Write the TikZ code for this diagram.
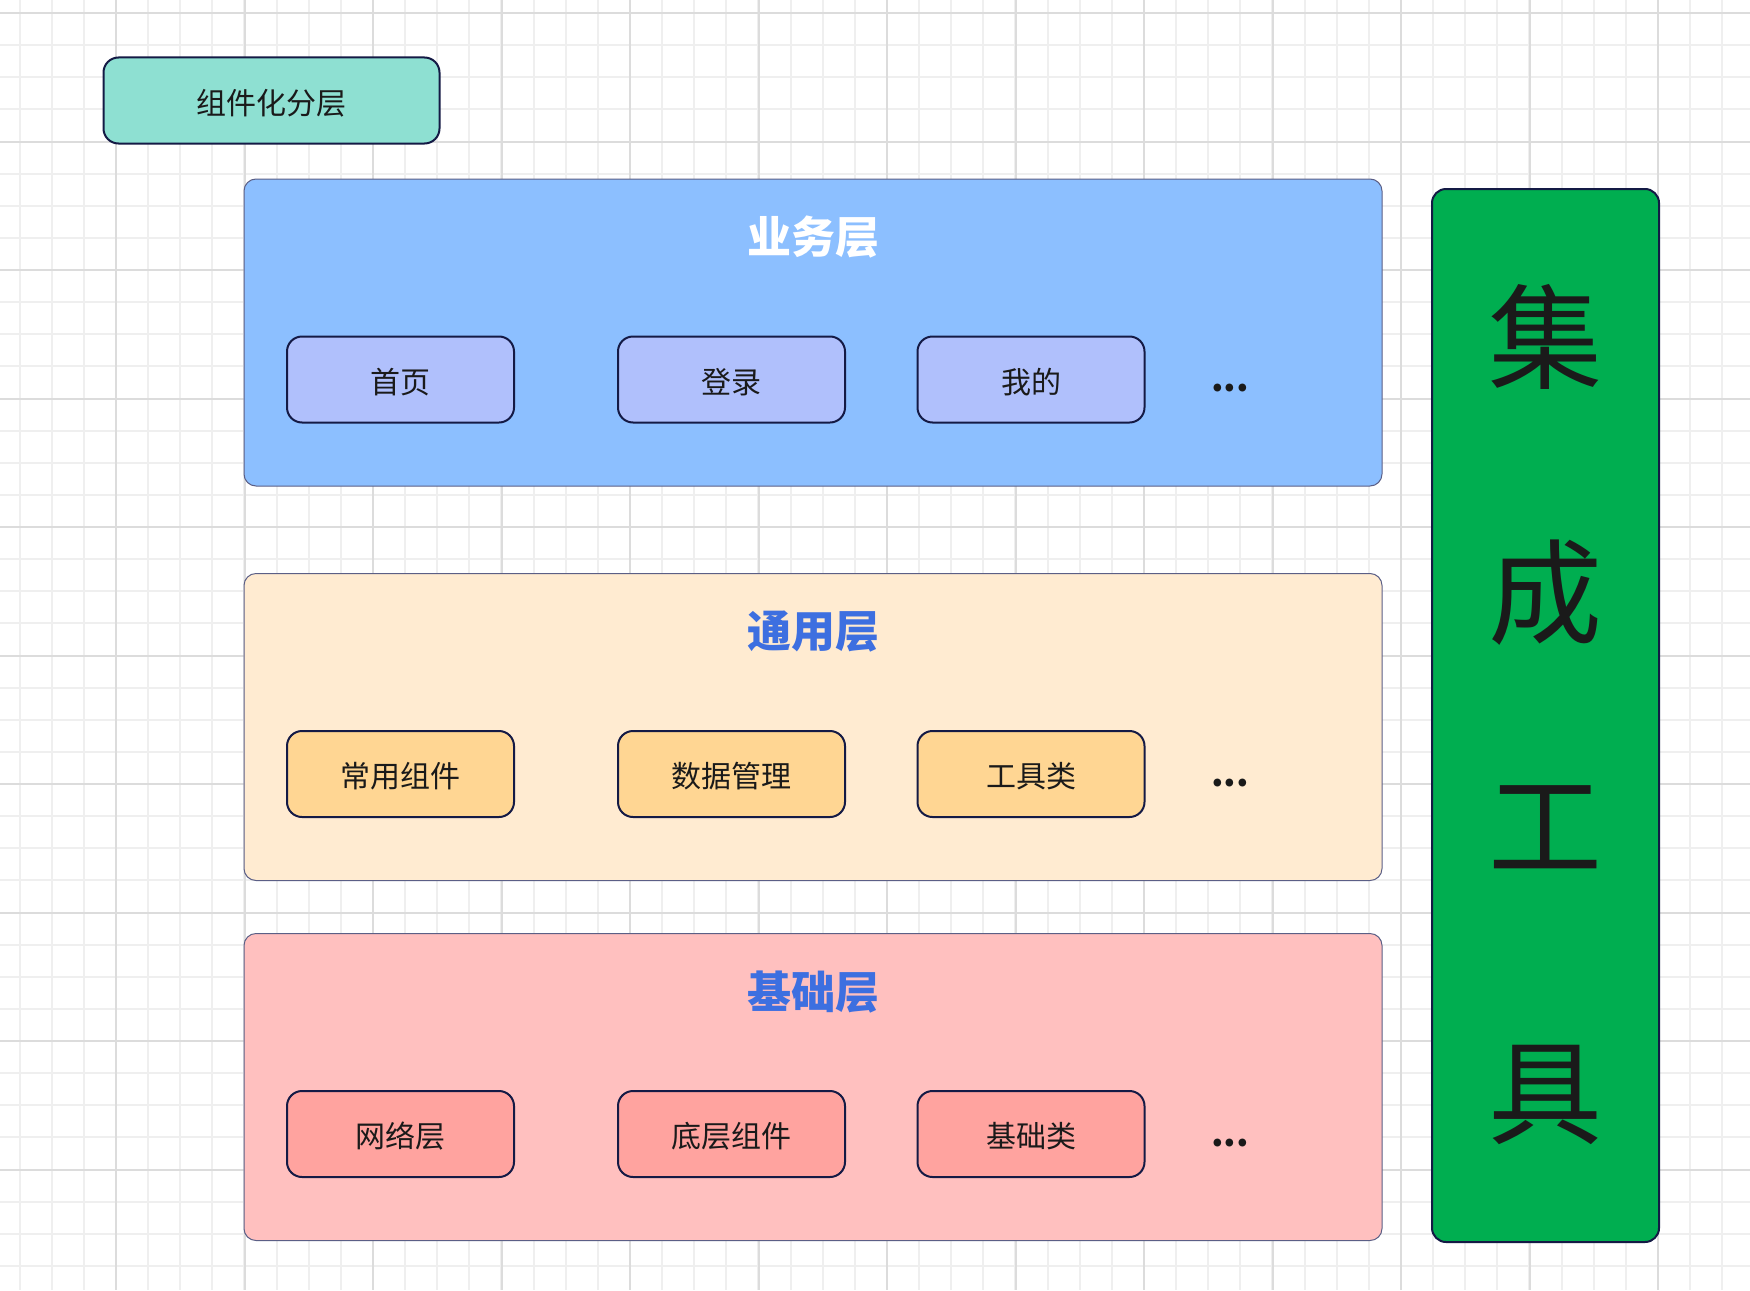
\documentclass[tikz,border=0pt]{standalone}
\usepackage{fontspec}
\usetikzlibrary{calc}
\newfontfamily\cjk{Noto Sans CJK SC}

\definecolor{gridlight}{HTML}{EFEFEF}
\definecolor{griddark}{HTML}{DCDCDC}
\definecolor{navy}{HTML}{141A45}
\definecolor{panelline}{HTML}{5B5F86}
\definecolor{mint}{HTML}{8EE0D2}
\definecolor{bluepanel}{HTML}{8CBFFF}
\definecolor{blueitem}{HTML}{B0C0FC}
\definecolor{orangepanel}{HTML}{FFEBD1}
\definecolor{orangeitem}{HTML}{FFD693}
\definecolor{pinkpanel}{HTML}{FFC0BF}
\definecolor{pinkitem}{HTML}{FFA39F}
\definecolor{toolgreen}{HTML}{00AE50}
\definecolor{titleblue}{HTML}{3D6FE0}
\definecolor{ink}{HTML}{1A1A1A}

% lower a label slightly inside its box, keeping the box size
\newcommand{\lowered}[1]{\raisebox{-2.5pt}[\height][\depth]{#1}}

\begin{document}
\begin{tikzpicture}[x=1pt,y=-1pt,
  gridminor/.style={draw=gridlight,line width=2pt},
  gridmajor/.style={draw=griddark,line width=2pt},
  panel/.style={draw=panelline,line width=1pt,rounded corners=12pt,
    minimum width=1138pt,minimum height=307pt,inner sep=0pt},
  paneltitle/.style={font=\cjk\bfseries\fontsize{44}{50}\selectfont,inner sep=0pt},
  item/.style={draw=navy,line width=2pt,rounded corners=15pt,
    minimum width=227pt,minimum height=86pt,inner sep=0pt,
    font=\cjk\fontsize{30}{36}\selectfont,text=ink},
  more/.style={font=\cjk\bfseries\fontsize{36}{42}\selectfont,text=ink,
    inner sep=0pt,anchor=base},
  bigchar/.style={font=\cjk\fontsize{114}{120}\selectfont,text=ink,inner sep=0pt}
]
% canvas and fixed page size
\fill[white] (0,0) rectangle (1750,1290);
\useasboundingbox (0,0) rectangle (1750,1290);

% background grid: fine lines, then every fourth line darker
\foreach \i in {0,...,53} {
  \pgfmathsetmacro\gx{round(19.6+32.125*\i)}
  \draw[gridminor] (\gx,0) -- (\gx,1290);
}
\foreach \j in {0,...,39} {
  \pgfmathsetmacro\gy{round(13+32.125*\j)}
  \draw[gridminor] (0,\gy) -- (1750,\gy);
}
\foreach \k in {0,...,12} {
  \pgfmathsetmacro\gx{round(116+128.5*\k)}
  \draw[gridmajor] (\gx,0) -- (\gx,1290);
}
\foreach \k in {0,...,9} {
  \pgfmathsetmacro\gy{round(13+128.5*\k)}
  \draw[gridmajor] (0,\gy) -- (1750,\gy);
}

% heading tag
\node[draw=navy,line width=2pt,rounded corners=15pt,fill=mint,
  minimum width=336pt,minimum height=86pt,inner sep=0pt,
  font=\cjk\fontsize{30}{36}\selectfont,text=ink] (tag) at (271.5,100.5) {\lowered{组件化分层}};

% business layer
\node[panel,fill=bluepanel] (biz) at (813,332.5) {};
\node[paneltitle,text=white] (biztitle) at ($(biz.north)+(0,59)$) {业务层};
\node[item,fill=blueitem] (home)  at ($(biz.north)+(-412.5,201)$) {\lowered{首页}};
\node[item,fill=blueitem] (login) at ($(biz.north)+(-81.5,201)$) {\lowered{登录}};
\node[item,fill=blueitem] (mine)  at ($(biz.north)+(218,201)$) {\lowered{我的}};
\node[more] (bizmore) at ($(biz.north)+(417,213)$) {...};

% common layer
\node[panel,fill=orangepanel] (com) at (813,727) {};
\node[paneltitle,text=titleblue] (comtitle) at ($(com.north)+(0,59)$) {通用层};
\node[item,fill=orangeitem] (widgets) at ($(com.north)+(-412.5,201)$) {\lowered{常用组件}};
\node[item,fill=orangeitem] (data)    at ($(com.north)+(-81.5,201)$) {\lowered{数据管理}};
\node[item,fill=orangeitem] (utils)   at ($(com.north)+(218,201)$) {\lowered{工具类}};
\node[more] (commore) at ($(com.north)+(417,213)$) {...};

% base layer
\node[panel,fill=pinkpanel] (base) at (813,1087) {};
\node[paneltitle,text=titleblue] (basetitle) at ($(base.north)+(0,59)$) {基础层};
\node[item,fill=pinkitem] (net)     at ($(base.north)+(-412.5,201)$) {\lowered{网络层}};
\node[item,fill=pinkitem] (lowcomp) at ($(base.north)+(-81.5,201)$) {\lowered{底层组件}};
\node[item,fill=pinkitem] (basecls) at ($(base.north)+(218,201)$) {\lowered{基础类}};
\node[more] (basemore) at ($(base.north)+(417,213)$) {...};

% integration tools column
\node[draw=navy,line width=2pt,rounded corners=14pt,fill=toolgreen,
  minimum width=227pt,minimum height=1053pt,inner sep=0pt] (tools) at (1545.5,715.5) {};
\node[bigchar] (ji)    at (1545.5,337)  {集};
\node[bigchar] (cheng) at (1545.5,593)  {成};
\node[bigchar] (gong)  at (1545.5,827)  {工};
\node[bigchar] (ju)    at (1545.5,1095) {具};
\end{tikzpicture}
\end{document}
